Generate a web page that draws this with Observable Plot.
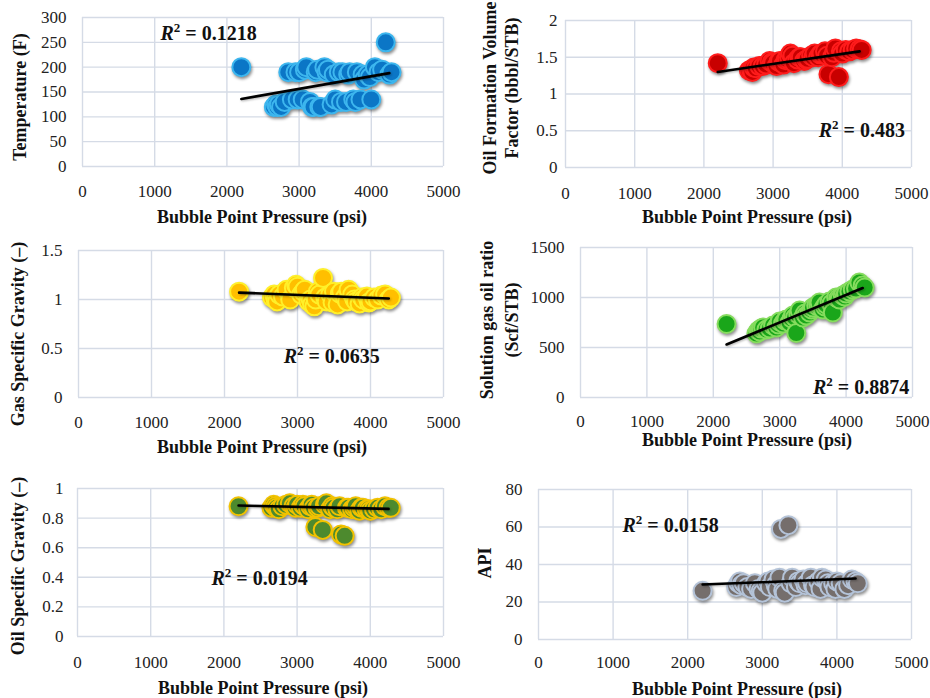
<!DOCTYPE html>
<html>
<head>
<meta charset="utf-8">
<script src="https://cdn.jsdelivr.net/npm/d3@7"></script>
<script src="https://cdn.jsdelivr.net/npm/@observablehq/plot@0.6"></script>
<style>
  body { margin: 0; background: #fff; }
  #chart { position: relative; width: 930px; height: 698px; overflow: hidden; font-family: "Liberation Serif", serif; }
  .panel { position: absolute; }
  .panel g[aria-label="dot"] { filter: drop-shadow(1.5px 2.5px 1.5px rgba(0,0,0,0.45)); }
  .panel g[aria-label="line"] { filter: drop-shadow(1px 1.5px 1px rgba(0,0,0,0.3)); }
  .lbl { position: absolute; font-weight: bold; font-size: 18px; white-space: nowrap; color: #111; text-align: center; transform: translate(-50%, -50%); }
  .lbl.rot { transform: translate(-50%, -50%) rotate(-90deg); }
</style>
</head>
<body>
<div id="chart"></div>
<script>
// ---- data ----
const pressure = [2200, 2650, 2680, 2700, 2720, 2750, 2800, 2850, 2900, 2950, 2980, 3000, 3050, 3080, 3100, 3150,
                  3180, 3200, 3230, 3250, 3280, 3300, 3350, 3380, 3400, 3450, 3480, 3500, 3550, 3580, 3600, 3650,
                  3680, 3700, 3750, 3780, 3800, 3850, 3880, 3900, 3950, 3980, 4000, 4050, 4100, 4150, 4200, 4250, 4280];
const temperature = [200, 120, 125, 120, 125, 120, 130, 190, 135, 190, 135, 190, 135, 195, 200, 130,
                     120, 120, 190, 195, 120, 120, 200, 190, 195, 125, 185, 135, 190, 130, 190, 130,
                     185, 190, 135, 130, 190, 135, 185, 175, 185, 180, 135, 200, 190, 195, 250, 185, 190];
const oilFVF = [1.42, 1.32, 1.33, 1.30, 1.36, 1.35, 1.38, 1.38, 1.40, 1.45, 1.43, 1.42, 1.38, 1.44, 1.45, 1.40,
                1.46, 1.48, 1.50, 1.55, 1.52, 1.42, 1.47, 1.50, 1.50, 1.45, 1.47, 1.48, 1.52, 1.50, 1.55, 1.50,
                1.54, 1.55, 1.58, 1.52, 1.27, 1.50, 1.56, 1.62, 1.23, 1.58, 1.55, 1.60, 1.58, 1.60, 1.62, 1.61, 1.60];
const gasSG = [1.08, 1.02, 1.05, 1.00, 0.98, 1.05, 1.03, 1.10, 1.00, 1.12, 1.15, 1.13, 1.05, 1.08, 1.10, 0.98,
               1.00, 0.95, 0.93, 1.00, 1.08, 1.05, 1.22, 1.02, 0.98, 1.05, 0.97, 1.08, 0.95, 1.06, 1.08, 1.02,
               0.98, 1.10, 1.05, 1.00, 0.98, 0.96, 1.02, 1.00, 1.03, 0.97, 0.98, 1.02, 1.00, 1.04, 1.05, 1.00, 1.02];
const solutionGOR = [735, 640, 670, 660, 690, 700, 680, 690, 720, 700, 730, 760, 740, 770, 780, 750,
                     790, 820, 800, 645, 830, 870, 800, 840, 820, 850, 880, 900, 920, 930, 950, 880,
                     910, 930, 960, 940, 850, 1000, 990, 980, 1020, 1010, 1040, 1060, 1080, 1090, 1150, 1120, 1100];
const oilSG = [0.88, 0.87, 0.89, 0.88, 0.87, 0.86, 0.88, 0.89, 0.90, 0.88, 0.87, 0.89, 0.87, 0.89, 0.88, 0.86,
               0.88, 0.89, 0.87, 0.74, 0.87, 0.88, 0.72, 0.89, 0.90, 0.86, 0.88, 0.87, 0.86, 0.88, 0.69, 0.68,
               0.87, 0.87, 0.86, 0.87, 0.88, 0.85, 0.87, 0.87, 0.86, 0.86, 0.85, 0.86, 0.87, 0.86, 0.88, 0.87, 0.87];
const api = [26, 28, 30, 31, 29, 30, 28, 27, 30, 27, 26, 25, 30, 31, 28, 32,
             29, 27, 33, 59, 26, 25, 61, 30, 33, 28, 31, 30, 32, 29, 30, 33,
             29, 28, 31, 27, 33, 32, 30, 28, 30, 27, 31, 30, 27, 29, 32, 31, 30];

// trend lines (end points)
const trendPressure = [2200, 4250];
const trendTemperature = [136, 188];
const trendOilFVF = [1.30, 1.58];
const trendGasSG = [1.07, 1.01];
const trendSolutionGOR = [530, 1095];
const trendOilSG = [0.885, 0.862];
const trendAPI = [29.3, 32.5];

// tick labels
const xTicks = [0, 1000, 2000, 3000, 4000, 5000];
const yTicksTemperature = [0, 50, 100, 150, 200, 250, 300];
const yTicksOilFVF = [0, 0.5, 1, 1.5, 2];
const yTicksGasSG = [0, 0.5, 1, 1.5];
const yTicksSolutionGOR = [0, 500, 1000, 1500];
const yTicksOilSG = [0, 0.2, 0.4, 0.6, 0.8, 1];
const yTicksAPI = [0, 20, 40, 60, 80];

// R² labels
const r2Values = ["0.1218", "0.483", "0.0635", "0.8874", "0.0194", "0.0158"];
const r2Pressure = [1080, 3660, 2810, 3500, 1830, 1125];
const r2Value = [268, 0.50, 0.42, 100, 0.39, 60.8];

const xTitle = "Bubble Point Pressure (psi)";

// ---- panel layout ----
const panels = [
  {values: temperature, trend: trendTemperature, yTicks: yTicksTemperature,
   left: 0, top: 0, w: 465, h: 230, mt: 17, mr: 22, mb: 64, ml: 82, xPad: 18, yPad: 16,
   fill: "#0b76c6", stroke: "#3db6ee",
   yTitle: ["Temperature (F)"], yTitleX: 20, yTitleY: 97, lh: 22, xTitleX: 262, xTitleY: 217},
  {values: oilFVF, trend: trendOilFVF, yTicks: yTicksOilFVF,
   left: 465, top: 0, w: 465, h: 230, mt: 20, mr: 19, mb: 63, ml: 100, xPad: 19, yPad: 8,
   fill: "#c80000", stroke: "#ff1c1c",
   yTitle: ["Oil Formation Volume", "Factor (bbbl/STB)"], yTitleX: 501, yTitleY: 88, lh: 22, xTitleX: 747, xTitleY: 217},
  {values: gasSG, trend: trendGasSG, yTicks: yTicksGasSG,
   left: 0, top: 230, w: 465, h: 230, mt: 20, mr: 22, mb: 63, ml: 78, xPad: 18, yPad: 16,
   fill: "#ffbf00", stroke: "#fff02a",
   yTitle: ["Gas Specific Gravity (–)"], yTitleX: 18, yTitleY: 334, lh: 22, xTitleX: 262, xTitleY: 447},
  {values: solutionGOR, trend: trendSolutionGOR, yTicks: yTicksSolutionGOR,
   left: 465, top: 230, w: 465, h: 230, mt: 17, mr: 18, mb: 63, ml: 115, xPad: 17, yPad: 16,
   fill: "#1aa61a", stroke: "#86dc5e",
   yTitle: ["Solution gas oil ratio", "(Scf/STB)"], yTitleX: 500, yTitleY: 320, lh: 25, xTitleX: 747, xTitleY: 440},
  {values: oilSG, trend: trendOilSG, yTicks: yTicksOilSG,
   left: 0, top: 460, w: 465, h: 238, mt: 28, mr: 22, mb: 62, ml: 77, xPad: 19, yPad: 14,
   fill: "#4d8a2e", stroke: "#f2c200",
   yTitle: ["Oil Specific Gravity (–)"], yTitleX: 18, yTitleY: 566, lh: 22, xTitleX: 263, xTitleY: 688},
  {values: api, trend: trendAPI, yTicks: yTicksAPI,
   left: 465, top: 460, w: 465, h: 238, mt: 29, mr: 19, mb: 59, ml: 73, xPad: 16, yPad: 16,
   fill: "#756e6c", stroke: "#b4c3d8",
   yTitle: ["API"], yTitleX: 485, yTitleY: 563, lh: 22, xTitleX: 737, xTitleY: 689}
];

const chart = document.getElementById("chart");
const gridColor = "#d5dbe6";
const fmt = d => String(d);
const NS = "http://www.w3.org/2000/svg";

panels.forEach((p, i) => {
  const pts = pressure.map((x, k) => ({x, y: p.values[k]}));
  const trend = trendPressure.map((x, k) => ({x, y: p.trend[k]}));
  const label = [{x: r2Pressure[i], y: r2Value[i], t: "R2 = " + r2Values[i]}];
  const yMax = p.yTicks[p.yTicks.length - 1];
  const svg = Plot.plot({
    width: p.w, height: p.h,
    marginTop: p.mt, marginRight: p.mr, marginBottom: p.mb, marginLeft: p.ml,
    x: {domain: [0, 5000]},
    y: {domain: [0, yMax]},
    style: {fontFamily: "Liberation Serif, serif", fontSize: "17px", color: "#222", background: "transparent", overflow: "visible"},
    marks: [
      Plot.gridX(xTicks, {stroke: gridColor, strokeOpacity: 1, strokeWidth: 1.4}),
      Plot.gridY(p.yTicks, {stroke: gridColor, strokeOpacity: 1, strokeWidth: 1.4}),
      Plot.axisX(xTicks, {tickSize: 0, tickPadding: p.xPad, tickFormat: fmt, label: null}),
      Plot.axisY(p.yTicks, {tickSize: 0, tickPadding: p.yPad, tickFormat: fmt, label: null}),
      Plot.dot(pts, {x: "x", y: "y", r: 9, fill: p.fill, stroke: p.stroke, strokeWidth: 2, fillOpacity: 1}),
      Plot.line(trend, {x: "x", y: "y", stroke: "#000", strokeWidth: 2.6}),
      Plot.text(label, {x: "x", y: "y", text: "t", textAnchor: "start", fontSize: 20, fontWeight: "bold", fill: "#111"})
    ]
  });
  svg.classList.add("panel");
  svg.style.left = p.left + "px";
  svg.style.top = p.top + "px";
  // italic R and superscript 2 in the R² label
  svg.querySelectorAll('g[aria-label="text"] text').forEach(t => {
    const s = t.textContent;
    if (s.startsWith("R2")) {
      t.textContent = "";
      const a = document.createElementNS(NS, "tspan");
      a.setAttribute("font-style", "italic");
      a.textContent = "R";
      const b = document.createElementNS(NS, "tspan");
      b.setAttribute("font-size", "13");
      b.setAttribute("dy", "-8");
      b.textContent = "2";
      const c = document.createElementNS(NS, "tspan");
      c.setAttribute("dy", "8");
      c.textContent = s.slice(2);
      t.appendChild(a); t.appendChild(b); t.appendChild(c);
    }
  });
  chart.appendChild(svg);

  const yt = document.createElement("div");
  yt.className = "lbl rot";
  yt.style.left = p.yTitleX + "px";
  yt.style.top = p.yTitleY + "px";
  yt.style.lineHeight = p.lh + "px";
  yt.innerHTML = p.yTitle.join("<br>");
  chart.appendChild(yt);

  const xt = document.createElement("div");
  xt.className = "lbl";
  xt.style.left = p.xTitleX + "px";
  xt.style.top = p.xTitleY + "px";
  xt.textContent = xTitle;
  chart.appendChild(xt);
});
</script>
</body>
</html>
